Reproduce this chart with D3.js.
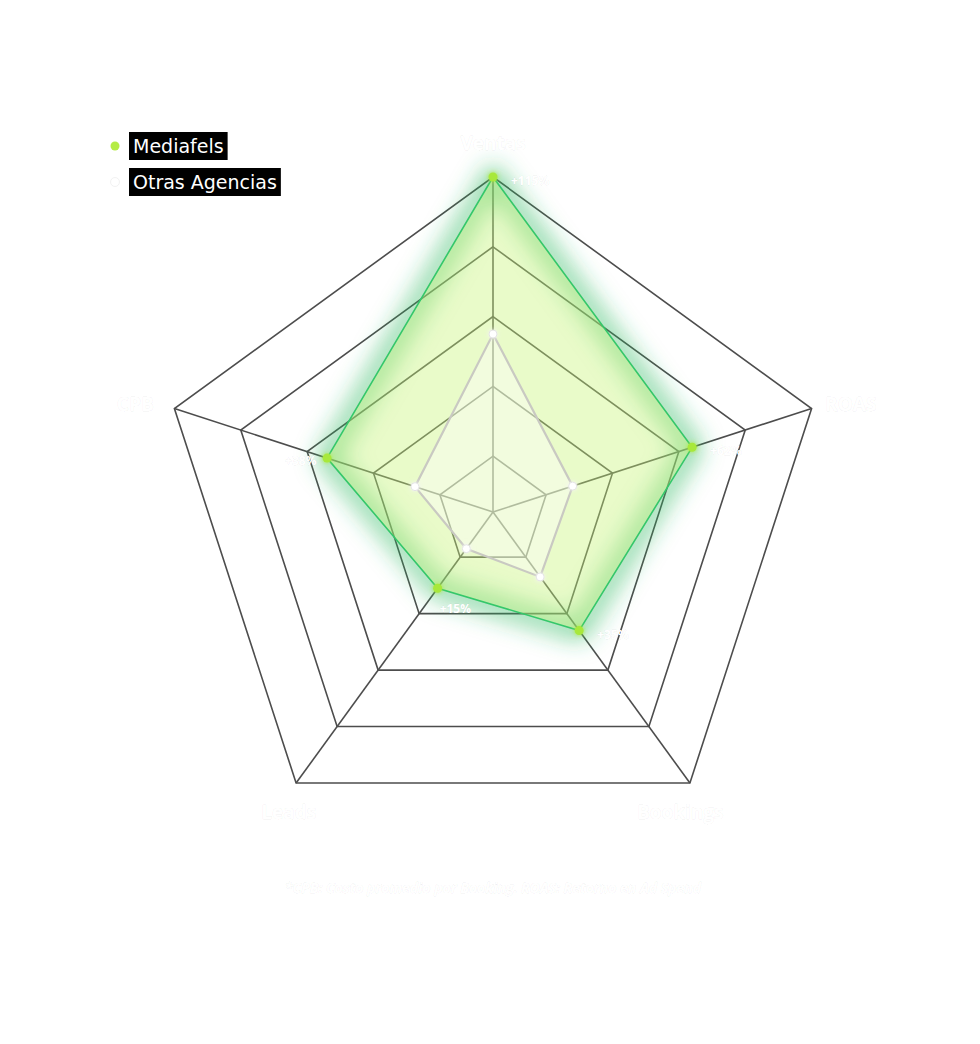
<!DOCTYPE html>
<html>
<head>
<meta charset="utf-8">
<script src="https://cdn.jsdelivr.net/npm/d3@7"></script>
<style>
  html, body { margin: 0; padding: 0; background: #fff; }
  text { font-family: "Open Sans", "Lato", sans-serif; }
</style>
</head>
<body>
<svg id="chart" width="980" height="1044"></svg>
<script>
// axes, clockwise from the top
var axes = ['Ventas', 'ROAS', 'Bookings', 'Leads', 'CPB'];
var mediafels = [100, 64, 46, 31, 54];
var otras = [55, 28, 27, 17, 27.5];
var growthLabels = ['+115%', '+62%', '+35%', '+15%', '+38%'];
var levels = [20, 40, 60, 80, 100];
var seriesNames = ['Mediafels', 'Otras Agencias'];
var footnote = '*CPB: Costo promedio por Booking. ROAS: Retorno en Ad Spend';

var svg = d3.select('#chart'),
    cx = 493, cy = 512, R = 335,
    rScale = d3.scaleLinear().domain([4, 100]).range([0, R]),
    angle = d3.scalePoint().domain(d3.range(axes.length + 1)).range([0, 2 * Math.PI]),
    g = svg.append('g').attr('transform', 'translate(' + cx + ',' + cy + ')');

var pt = function(i, r) {
    var a = angle(i);
    return [Math.sin(a) * r, -Math.cos(a) * r];
};
var ring = function(vals) {
    return vals.map(function(v, i) { return pt(i, rScale(v)); });
};
var line = d3.line().curve(d3.curveLinearClosed);

// glow filters
var defs = svg.append('defs');
var glow = defs.append('filter').attr('id', 'glow')
    .attr('x', '-30%').attr('y', '-30%').attr('width', '160%').attr('height', '160%');
glow.append('feGaussianBlur').attr('stdDeviation', 12);
var dotGlow = defs.append('filter').attr('id', 'dotglow')
    .attr('x', '-200%').attr('y', '-200%').attr('width', '500%').attr('height', '500%');
dotGlow.append('feGaussianBlur').attr('in', 'SourceGraphic').attr('stdDeviation', 2.5).attr('result', 'b');
var m = dotGlow.append('feMerge');
m.append('feMergeNode').attr('in', 'b');
m.append('feMergeNode').attr('in', 'SourceGraphic');

// grid rings + spokes
g.selectAll('.level').data(levels).enter().append('path')
    .attr('class', 'level')
    .attr('d', function(l) { return line(axes.map(function(a, i) { return pt(i, rScale(l)); })); })
    .attr('fill', 'none').attr('stroke', '#4d4d4d').attr('stroke-width', 1.6);
g.selectAll('.spoke').data(axes).enter().append('line')
    .attr('class', 'spoke')
    .attr('x1', 0).attr('y1', 0)
    .attr('x2', function(d, i) { return pt(i, R)[0]; })
    .attr('y2', function(d, i) { return pt(i, R)[1]; })
    .attr('stroke', '#4d4d4d').attr('stroke-width', 1.6);

// Mediafels glow (mostly outside the shape)
g.append('path').attr('d', line(ring(mediafels)))
    .attr('fill', 'none').attr('stroke', '#30b860').attr('stroke-width', 16)
    .attr('stroke-opacity', 0.7).attr('filter', 'url(#glow)');
g.append('path').attr('d', line(ring(mediafels)))
    .attr('fill', 'rgba(200,244,120,0.4)').attr('stroke', '#34c76a').attr('stroke-width', 1.6);

// Otras polygon
g.append('path').attr('d', line(ring(otras)))
    .attr('fill', 'rgba(255,255,255,0.4)').attr('stroke', '#c9c9c2').attr('stroke-width', 2.2);

// points
g.selectAll('.pm').data(mediafels).enter().append('circle')
    .attr('class', 'pm')
    .attr('cx', function(v, i) { return pt(i, rScale(v))[0]; })
    .attr('cy', function(v, i) { return pt(i, rScale(v))[1]; })
    .attr('r', 4.5).attr('fill', '#a8e83a').attr('filter', 'url(#dotglow)');
g.selectAll('.po').data(otras).enter().append('circle')
    .attr('class', 'po')
    .attr('cx', function(v, i) { return pt(i, rScale(v))[0]; })
    .attr('cy', function(v, i) { return pt(i, rScale(v))[1]; })
    .attr('r', 4).attr('fill', '#fff').attr('stroke', '#e4e4e4').attr('stroke-width', 1)
    .attr('filter', 'url(#dotglow)');

// growth labels next to the Mediafels points
var labelOffset = function(i) { return i === 4 ? [-42, 7] : (i === 3 ? [2, 25] : [18, 8]); };
g.selectAll('.gl').data(growthLabels).enter().append('text')
    .attr('class', 'gl')
    .attr('x', function(d, i) { return pt(i, rScale(mediafels[i]))[0] + labelOffset(i)[0]; })
    .attr('y', function(d, i) { return pt(i, rScale(mediafels[i]))[1] + labelOffset(i)[1]; })
    .attr('fill', '#fff').attr('font-size', 12).attr('font-weight', 700)
    .style('paint-order', 'stroke').attr('stroke', 'rgba(0,0,0,0.06)').attr('stroke-width', 1)
    .text(function(d) { return d; });

// axis labels
var axisShift = [[0, 6], [3, 9], [-32, 0], [15, 0], [-3, 9]];
g.selectAll('.ax').data(axes).enter().append('text')
    .attr('class', 'ax')
    .attr('x', function(d, i) { return pt(i, R + 38)[0] + axisShift[i][0]; })
    .attr('y', function(d, i) { return pt(i, R + 38)[1] + axisShift[i][1]; })
    .attr('text-anchor', 'middle').attr('dominant-baseline', 'middle')
    .attr('fill', '#fff').attr('font-size', 19).attr('font-weight', 700)
    .style('paint-order', 'stroke').attr('stroke', 'rgba(0,0,0,0.06)').attr('stroke-width', 1)
    .text(function(d) { return d; });

// legend
var legend = svg.append('g').attr('transform', 'translate(115,146)');
var item = legend.selectAll('.li').data(seriesNames).enter().append('g')
    .attr('class', 'li')
    .attr('transform', function(d, i) { return 'translate(0,' + i * 36 + ')'; });
item.append('circle').attr('r', 4.5)
    .attr('fill', function(d, i) { return i === 0 ? '#b5ec45' : '#fff'; })
    .attr('stroke', function(d, i) { return i === 0 ? 'none' : '#f2f2f2'; });
item.append('text').attr('x', 18).attr('y', 0)
    .attr('dominant-baseline', 'central').attr('fill', '#fff').attr('font-size', 19)
    .style('font-family', '"DejaVu Sans", sans-serif')
    .text(function(d) { return d; })
    .each(function() {
        var b = this.getBBox();
        d3.select(this.parentNode).insert('rect', 'text')
            .attr('x', 14).attr('y', -14).attr('width', b.width + 8).attr('height', 28)
            .attr('fill', '#000');
    });

// footnote
svg.append('text').attr('x', cx).attr('y', 893)
    .attr('text-anchor', 'middle').attr('fill', '#fff')
    .attr('font-size', 14).attr('font-weight', 700).attr('font-style', 'italic')
    .style('paint-order', 'stroke').attr('stroke', 'rgba(0,0,0,0.06)').attr('stroke-width', 1)
    .text(footnote);
</script>
</body>
</html>
